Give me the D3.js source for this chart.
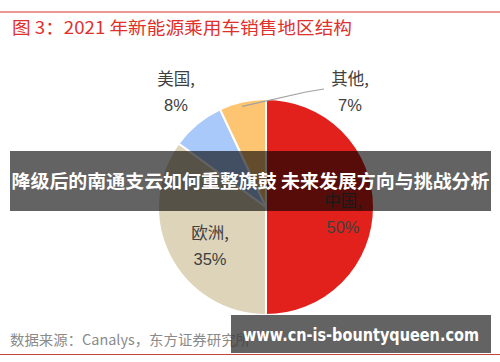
<!DOCTYPE html>
<html lang="zh">
    <head>
        <meta charset="utf-8">
        <title>2021 年新能源乘用车销售地区结构</title>
        <style>
            body { margin: 0; background: #fff; }
            svg { display: block; font-family: "Noto Sans CJK SC", "Noto Sans", sans-serif; }
        </style>
    </head>
    <body>
        <div id="chart"></div>
        <script src="https://cdn.jsdelivr.net/npm/d3@7"></script>
        <script>
            const regions = ["中国", "欧洲", "美国", "其他"];
            const shares = [50, 35, 8, 7];
            const sliceColors = ["#e2211c", "#ddd4ba", "#a9c9fa", "#fdc572"];
            const title = "图 3：2021 年新能源乘用车销售地区结构";
            const source = "数据来源：Canalys，东方证券研究所";
            const banner = "降级后的南通支云如何重整旗鼓 未来发展方向与挑战分析";
            const watermark = "www.cn-is-bountyqueen.com";

            const w = 500, h = 362;
            const cx = 266, cy = 207, r = 108;

            const svg = d3.select("#chart").append("svg")
                .attr("width", w)
                .attr("height", h);

            // top rule + title
            svg.append("line")
                .attr("x1", 0).attr("x2", w).attr("y1", 12).attr("y2", 12)
                .attr("stroke", "#e0302c").attr("stroke-width", 1.2);
            svg.append("text")
                .attr("x", 12).attr("y", 34)
                .attr("font-size", 17.5)
                .attr("fill", "#e0302c")
                .attr("textLength", 340)
                .attr("lengthAdjust", "spacingAndGlyphs")
                .text(title);

            const data = regions.map((d, i) => ({ name: d, value: shares[i], color: sliceColors[i] }));
            const pie = d3.pie().sort(null).value(d => d.value);
            const arcs = pie(data);
            const arc = d3.arc().innerRadius(0).outerRadius(r);

            const g = svg.append("g").attr("transform", `translate(${cx},${cy})`);
            g.selectAll("path")
                .data(arcs)
                .join("path")
                .attr("d", arc)
                .attr("fill", d => d.data.color)
                .attr("stroke", "#fff")
                .attr("stroke-width", 2);

            // label positions (offsets from the centre)
            const labelPos = {
                "中国": [77, 0],
                "欧洲": [-56, 32],
                "美国": [-90, -122],
                "其他": [84, -122]
            };
            arcs.forEach(d => {
                const p = labelPos[d.data.name];
                const t = g.append("text")
                    .attr("text-anchor", "middle")
                    .attr("font-size", 16.5)
                    .attr("fill", "#404040");
                t.append("tspan").attr("x", p[0]).attr("y", p[1]).text(d.data.name + ",");
                t.append("tspan").attr("x", p[0]).attr("y", p[1] + 26)
                    .attr("font-family", "Liberation Sans, Arial, sans-serif")
                    .text(d.data.value + "%");
            });

            // leader line for 其他
            const other = arcs[3];
            const mid = (other.startAngle + other.endAngle) / 2;
            const ox = Math.sin(mid) * (r - 8), oy = -Math.cos(mid) * (r - 8);
            g.append("polyline")
                .attr("points", `${ox - 2},${oy - 3} ${40},${-115} ${58},${-118}`)
                .attr("fill", "none")
                .attr("stroke", "#a0a0a0")
                .attr("stroke-width", 1.2);

            // source + bottom rule
            svg.append("text")
                .attr("x", 10).attr("y", 345)
                .attr("font-size", 14)
                .attr("fill", "#8a8a8a")
                .attr("textLength", 240)
                .attr("lengthAdjust", "spacingAndGlyphs")
                .text(source);
            svg.append("line")
                .attr("x1", 0).attr("x2", w).attr("y1", 354.5).attr("y2", 354.5)
                .attr("stroke", "#c8423e").attr("stroke-width", 1);

            // overlay banner
            svg.append("rect")
                .attr("x", 10).attr("y", 151).attr("width", 481).attr("height", 60)
                .attr("fill", "rgba(0,0,0,0.61)");
            svg.append("text")
                .attr("x", 250.5).attr("y", 188)
                .attr("text-anchor", "middle")
                .attr("font-size", 18.5)
                .attr("font-weight", "bold")
                .attr("fill", "#fff")
                .attr("textLength", 478)
                .attr("lengthAdjust", "spacingAndGlyphs")
                .text(banner);

            // watermark box
            svg.append("rect")
                .attr("x", 231).attr("y", 315).attr("width", 260).attr("height", 38)
                .attr("fill", "rgba(60,60,60,0.8)");
            svg.append("text")
                .attr("x", 361).attr("y", 341)
                .attr("text-anchor", "middle")
                .attr("font-family", "DejaVu Sans, sans-serif")
                .attr("font-size", 18)
                .attr("font-weight", "bold")
                .attr("fill", "#fff")
                .attr("textLength", 236)
                .attr("lengthAdjust", "spacingAndGlyphs")
                .text(watermark);
        </script>
    </body>
</html>
